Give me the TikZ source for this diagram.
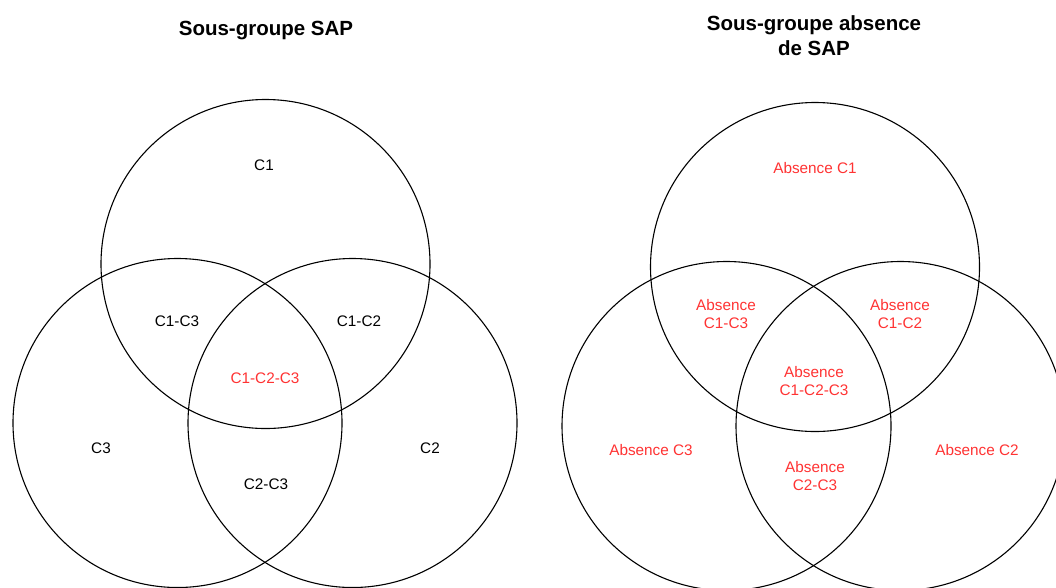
\documentclass[tikz,border=0pt]{standalone}
\usepackage{fontspec}
\setmainfont{Liberation Sans}
\usetikzlibrary{positioning}

\definecolor{absred}{RGB}{255,51,51}

\begin{document}
\begin{tikzpicture} [
    x=1pt, y=-1pt,
    venn/.style={circle, draw, line width=1.1pt, minimum size=329pt, inner sep=0pt},
    heading/.style={font=\fontsize{20.5}{25}\selectfont\bfseries, align=center},
    zone/.style={font=\fontsize{15.3}{18}\selectfont, align=center, inner sep=0pt},
    redzone/.style={zone, text=absred}
]
    % Frame
    \clip (0,0) rectangle (1056,587);
    \fill[white] (0,0) rectangle (1056,587);

    % Titles
    \node[heading] (title_sap) at (266,31) {Sous-groupe SAP};
    \node[heading] (title_abs) at (814,36) {Sous-groupe absence\\de SAP};

    % Circles, SAP
    \node[venn] (c1) at (265.5,264) {};
    \node[venn] (c3) at (177.5,423) {};
    \node[venn] (c2) at (352.5,423) {};

    % Circles, absence de SAP
    \node[venn] (a1) at (815,267) {};
    \node[venn] (a3) at (726.5,426) {};
    \node[venn] (a2) at (900.5,426) {};

    % Zones, SAP
    \node[zone] (z1) at (264,165) {C1};
    \node[zone] (z13) at (177,321) {C1-C3};
    \node[zone] (z12) at (359,321) {C1-C2};
    \node[redzone] (z123) at (265,378) {C1-C2-C3};
    \node[zone] (z3) at (101,448) {C3};
    \node[zone] (z2) at (430,448) {C2};
    \node[zone] (z23) at (266,484) {C2-C3};

    % Zones, absence de SAP
    \node[redzone] (w1) at (815,168) {Absence C1};
    \node[redzone] (w13) at (726,314) {Absence\\C1-C3};
    \node[redzone] (w12) at (900,314) {Absence\\C1-C2};
    \node[redzone] (w123) at (814,381) {Absence\\C1-C2-C3};
    \node[redzone] (w3) at (651,450) {Absence C3};
    \node[redzone] (w2) at (977,450) {Absence C2};
    \node[redzone] (w23) at (815,476) {Absence\\C2-C3};

\end{tikzpicture}
\end{document}
